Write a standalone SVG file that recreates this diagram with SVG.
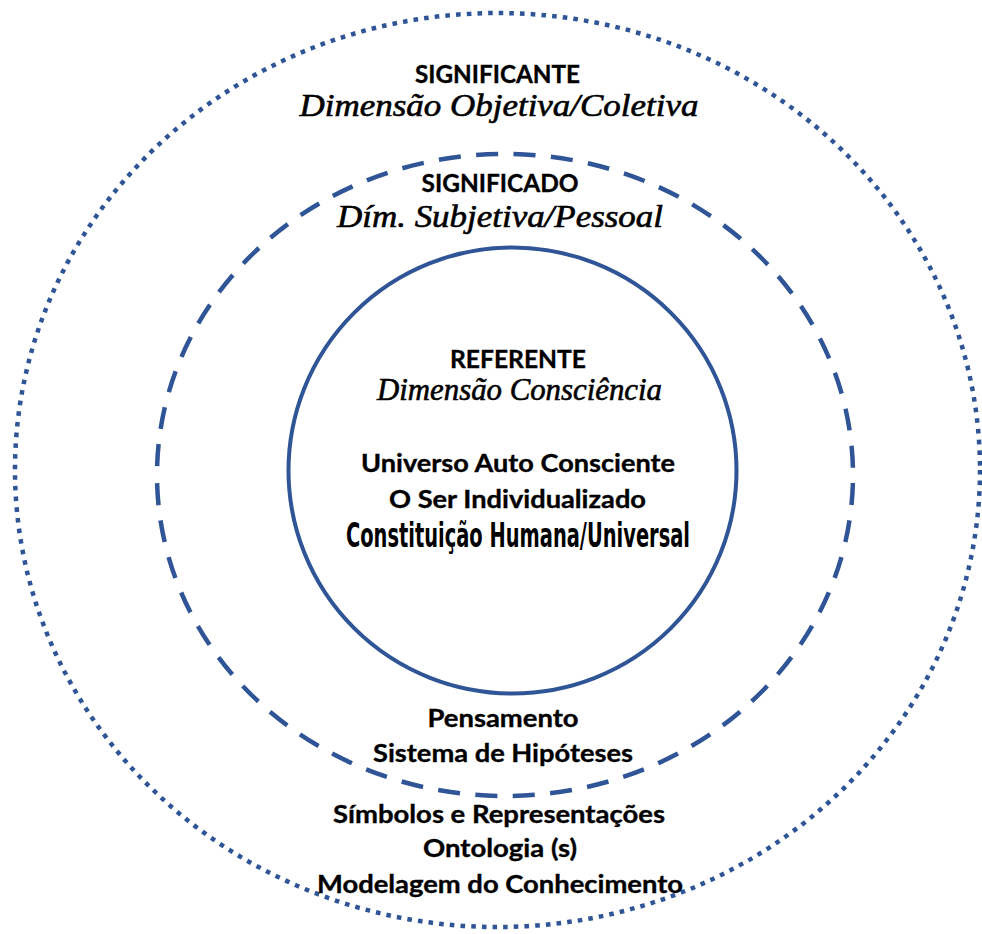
<svg xmlns="http://www.w3.org/2000/svg" width="982" height="934" viewBox="0 0 982 934">
<style>
.ring{fill:none;stroke:#2F5597;}
.b{font-family:Lato,"Open Sans","Liberation Sans",sans-serif;font-weight:bold;font-size:24px;fill:#000;stroke:#000;stroke-width:0.35px;text-anchor:middle;}
.i{font-family:"Liberation Serif","DejaVu Serif",serif;font-style:italic;font-size:31px;fill:#000;stroke:#000;stroke-width:0.6px;text-anchor:middle;}
.c{font-family:"Liberation Sans Narrow","DejaVu Sans Condensed","DejaVu Sans",sans-serif;font-weight:bold;font-size:34px;fill:#000;text-anchor:middle;}
</style>
<rect width="982" height="934" fill="#fff"/>
<g id="significante">
<ellipse class="ring" cx="497.5" cy="470" rx="482.5" ry="457" stroke-width="4.5" stroke-dasharray="4.6 6.1"/>
<text class="b" x="497.5" y="83" textLength="165" lengthAdjust="spacingAndGlyphs">SIGNIFICANTE</text>
<text class="i" x="499" y="116" textLength="399" lengthAdjust="spacingAndGlyphs">Dimensão Objetiva/Coletiva</text>
<text class="b" x="499" y="823" textLength="332" lengthAdjust="spacingAndGlyphs">Símbolos e Representações</text>
<text class="b" x="500" y="857" textLength="154" lengthAdjust="spacingAndGlyphs">Ontologia (s)</text>
<text class="b" x="500" y="893" textLength="366" lengthAdjust="spacingAndGlyphs">Modelagem do Conhecimento</text>
</g>
<g id="significado">
<path class="ring" d="M157,475 A348,321 0 1 1 853,475 A348,321 0 1 1 157,475 Z" stroke-width="4.5" stroke-dasharray="22 15.5" stroke-dashoffset="-9"/>
<text class="b" x="500" y="192" textLength="157" lengthAdjust="spacingAndGlyphs">SIGNIFICADO</text>
<text class="i" x="500" y="227" textLength="326" lengthAdjust="spacingAndGlyphs">Dím. Subjetiva/Pessoal</text>
<text class="b" x="503" y="727" textLength="151" lengthAdjust="spacingAndGlyphs">Pensamento</text>
<text class="b" x="503" y="762" textLength="260" lengthAdjust="spacingAndGlyphs">Sistema de Hipóteses</text>
</g>
<g id="referente">
<ellipse class="ring" cx="512.5" cy="470.5" rx="224" ry="223" stroke-width="4"/>
<text class="b" x="518" y="368" textLength="136" lengthAdjust="spacingAndGlyphs">REFERENTE</text>
<text class="i" x="519.5" y="400" textLength="285" lengthAdjust="spacingAndGlyphs">Dimensão Consciência</text>
<text class="b" x="518" y="472" textLength="314" lengthAdjust="spacingAndGlyphs">Universo Auto Consciente</text>
<text class="b" x="517.5" y="508" textLength="257" lengthAdjust="spacingAndGlyphs">O Ser Individualizado</text>
<text class="c" x="518" y="547" textLength="344" lengthAdjust="spacingAndGlyphs">Constituição Humana/Universal</text>
</g>
<g id="connectors"/>
</svg>
